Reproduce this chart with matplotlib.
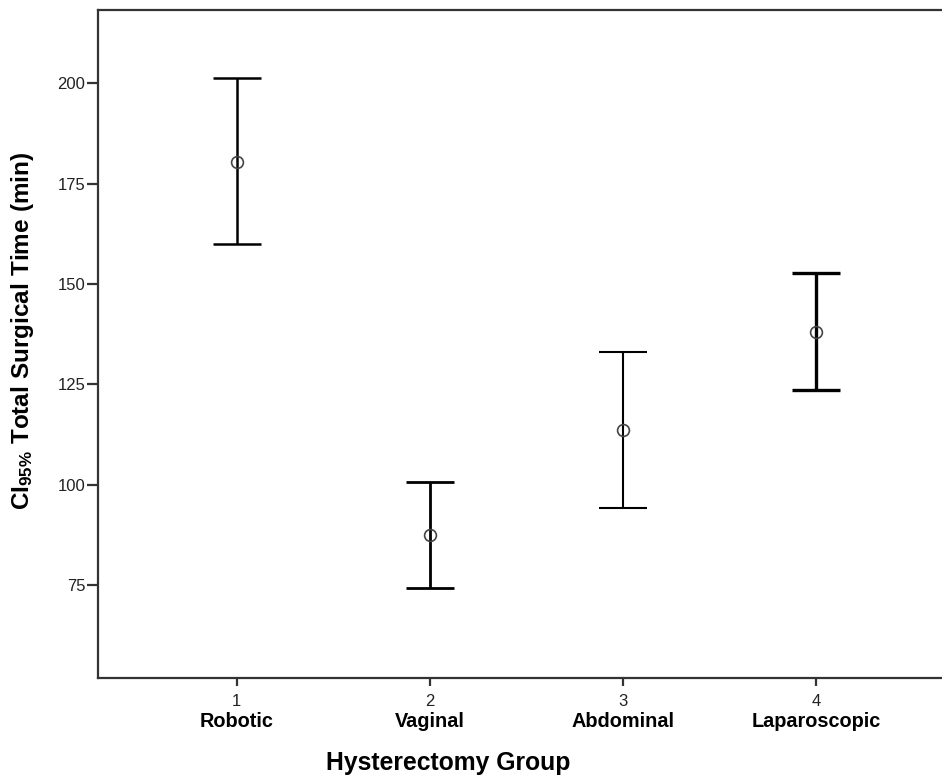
import matplotlib.pyplot as plt
import numpy as np

# data
groups = ['Robotic', 'Vaginal', 'Abdominal', 'Laparoscopic']
group_codes = [1, 2, 3, 4]
means = [180.5, 87.4, 113.6, 138.1]
ci_low = [159.9, 74.3, 94.3, 123.7]
ci_high = [201.3, 100.6, 133.1, 152.8]
yticks = [75, 100, 125, 150, 175, 200]

plt.rcParams['font.family'] = ['Liberation Sans', 'DejaVu Sans']
plt.rcParams['mathtext.fontset'] = 'custom'
plt.rcParams['mathtext.rm'] = 'Liberation Sans:bold'
plt.rcParams['mathtext.it'] = 'Liberation Sans:bold'
plt.rcParams['mathtext.bf'] = 'Liberation Sans:bold'

fig = plt.figure(figsize=(9.42, 7.76), dpi=100)
# axes run past the right edge of the picture, as in the reference
ax = fig.add_axes([0.1037, 0.1259, 0.947, 0.8612])

x = np.array(group_codes)
m = np.array(means)
lo = m - np.array(ci_low)
hi = np.array(ci_high) - m
widths = [1.8, 2.0, 1.5, 2.4]
for i in range(len(groups)):
    ax.errorbar(x[i], m[i], yerr=[[lo[i]], [hi[i]]], fmt='none',
                ecolor='black', elinewidth=widths[i], capsize=17.5,
                capthick=widths[i])
ax.plot(x, m, 'o', markersize=8.5, markerfacecolor='none',
        markeredgecolor='#444444', markeredgewidth=1.2, linestyle='none')

ax.set_xlim(0.28, 4.9)
ax.set_ylim(51.75, 218.26)
ax.set_yticks(yticks)
ax.set_yticklabels([str(v) for v in yticks])
ax.set_xticks(group_codes)
ax.set_xticklabels([str(v) for v in group_codes])

for s in ['left', 'top', 'bottom']:
    ax.spines[s].set_linewidth(1.6)
    ax.spines[s].set_color('#333333')
ax.spines['right'].set_visible(False)

ax.tick_params(axis='y', direction='out', length=8, width=1.6, pad=1,
               labelsize=12, colors='#333333', labelcolor='#222222')
ax.tick_params(axis='x', direction='out', length=6, width=1.6, pad=5,
               labelsize=12, colors='#333333', labelcolor='#222222')

for xc, name in zip(group_codes, groups):
    ax.annotate(name, xy=(xc, 0), xycoords=('data', 'axes fraction'),
                xytext=(0, -31), textcoords='offset points',
                ha='center', va='center', fontsize=14.3, fontweight='bold',
                color='black')

fig.text(448 / 942, 1 - 763 / 776, 'Hysterectomy Group', ha='center',
         va='center', fontsize=17.8, fontweight='bold')
fig.text(23 / 942, 1 - 331 / 776,
         r'$\mathrm{CI_{95\%}\ Total\ Surgical\ Time\ (min)}$',
         rotation=90, ha='center', va='center', fontsize=17.5)

fig.savefig('out.png', dpi=100)
